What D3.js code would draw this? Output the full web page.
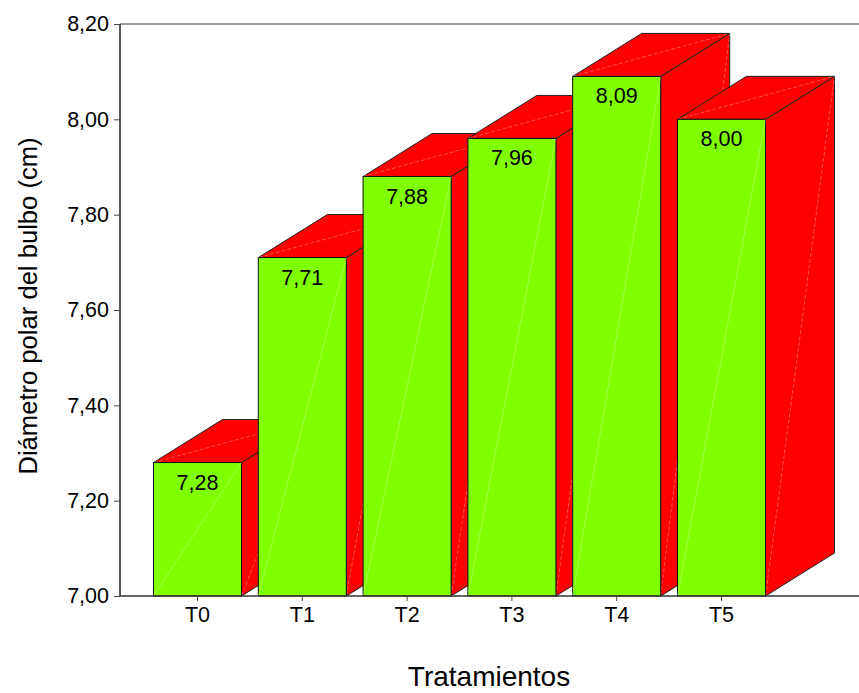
<!DOCTYPE html>
<html>
<head>
<meta charset="utf-8">
<script src="https://cdn.jsdelivr.net/npm/d3@7"></script>
<style>
  html, body { margin: 0; padding: 0; background: #fff; }
  svg { display: block; font-family: Arial, "Liberation Sans", sans-serif; }
</style>
</head>
<body>
<svg id="chart" width="859" height="693"></svg>
<script>
// Treatments and mean polar diameter of the bulb (cm)
const categories = ["T0", "T1", "T2", "T3", "T4", "T5"];
const values = [7.28, 7.71, 7.88, 7.96, 8.09, 8.00];
const yTicks = [7.0, 7.2, 7.4, 7.6, 7.8, 8.0, 8.2];

const svg = d3.select("#chart");
const plotLeft = 120, plotRight = 859, plotTop = 24, plotBottom = 596;
const depthX = 69, depthY = -43;   // oblique offset of the 3D box
const labelSize = 21.5;

const x = d3.scaleBand().domain(categories).range([145.1, 773.9])
  .paddingInner(0.16).paddingOuter(0.08);
const y = d3.scaleLinear().domain([7.0, 8.2]).range([plotBottom, plotTop]);
const fmt = v => d3.format(".2f")(v).replace(".", ",");

// frame: grey top rule
svg.append("line").attr("x1", plotLeft).attr("x2", plotRight).attr("y1", plotTop).attr("y2", plotTop)
  .attr("stroke", "#777").attr("stroke-width", 1.3);

// bars (drawn left to right so each front face covers the previous box's side)
const g = svg.append("g");
categories.forEach((c, i) => {
  const x0 = x(c), x1 = x(c) + x.bandwidth();
  const yT = y(values[i]), y0 = y(7.0);
  const bar = g.append("g");
  // side face
  bar.append("polygon")
    .attr("points", [[x1, yT], [x1 + depthX, yT + depthY], [x1 + depthX, y0 + depthY], [x1, y0]].join(" "))
    .attr("fill", "#ff0000").attr("stroke", "#222").attr("stroke-width", 1);
  bar.append("line").attr("x1", x1).attr("y1", y0).attr("x2", x1 + depthX).attr("y2", yT + depthY)
    .attr("stroke", "#ffffff").attr("stroke-opacity", 0.45).attr("stroke-width", 0.7)
    .attr("stroke-dasharray", "4,2");
  // top face
  bar.append("polygon")
    .attr("points", [[x0, yT], [x0 + depthX, yT + depthY], [x1 + depthX, yT + depthY], [x1, yT]].join(" "))
    .attr("fill", "#ff0000").attr("stroke", "#222").attr("stroke-width", 1);
  bar.append("line").attr("x1", x0).attr("y1", yT).attr("x2", x1 + depthX).attr("y2", yT + depthY)
    .attr("stroke", "#ffffff").attr("stroke-opacity", 0.45).attr("stroke-width", 0.7)
    .attr("stroke-dasharray", "4,2");
  // front face
  bar.append("rect")
    .attr("x", x0).attr("y", yT).attr("width", x.bandwidth()).attr("height", y0 - yT)
    .attr("fill", "#80ff00").attr("stroke", "#111").attr("stroke-width", 1);
  bar.append("line").attr("x1", x0).attr("y1", y0).attr("x2", x1).attr("y2", yT)
    .attr("stroke", "#ffffff").attr("stroke-opacity", 0.4).attr("stroke-width", 0.7);
  // value label
  bar.append("text")
    .attr("x", x0 + x.bandwidth() / 2).attr("y", yT + 27)
    .attr("text-anchor", "middle").attr("font-size", labelSize).attr("fill", "#000")
    .text(fmt(values[i]));
});

// y axis
const yAxis = d3.axisLeft(y).tickValues(yTicks).tickFormat(fmt).tickSize(6).tickPadding(5);
const ya = svg.append("g").attr("transform", `translate(${plotLeft},0)`).call(yAxis);
ya.select(".domain").attr("stroke", "#000").attr("stroke-width", 1.3)
  .attr("d", `M0,${plotTop}V${plotBottom}`);
ya.selectAll(".tick line").attr("stroke", "#444");
ya.selectAll(".tick text").attr("font-size", labelSize).attr("fill", "#000")
  .attr("font-family", "Arial, 'Liberation Sans', sans-serif");

// x axis
const xAxis = d3.axisBottom(x).tickSize(5).tickPadding(6);
const xa = svg.append("g").attr("transform", `translate(0,${plotBottom})`).call(xAxis);
xa.select(".domain").attr("stroke", "#333").attr("stroke-width", 1.3)
  .attr("d", `M${plotLeft},0H${plotRight}`);
xa.selectAll(".tick line").attr("stroke", "#444");
xa.selectAll(".tick text").attr("font-size", labelSize).attr("fill", "#000")
  .attr("font-family", "Arial, 'Liberation Sans', sans-serif");

// axis titles
svg.append("text")
  .attr("transform", `translate(37,306) rotate(-90)`)
  .attr("text-anchor", "middle").attr("font-size", 25.6).attr("fill", "#000")
  .text("Diámetro polar del bulbo (cm)");
svg.append("text")
  .attr("x", 489).attr("y", 686)
  .attr("text-anchor", "middle").attr("font-size", 28).attr("fill", "#000")
  .text("Tratamientos");
</script>
</body>
</html>
